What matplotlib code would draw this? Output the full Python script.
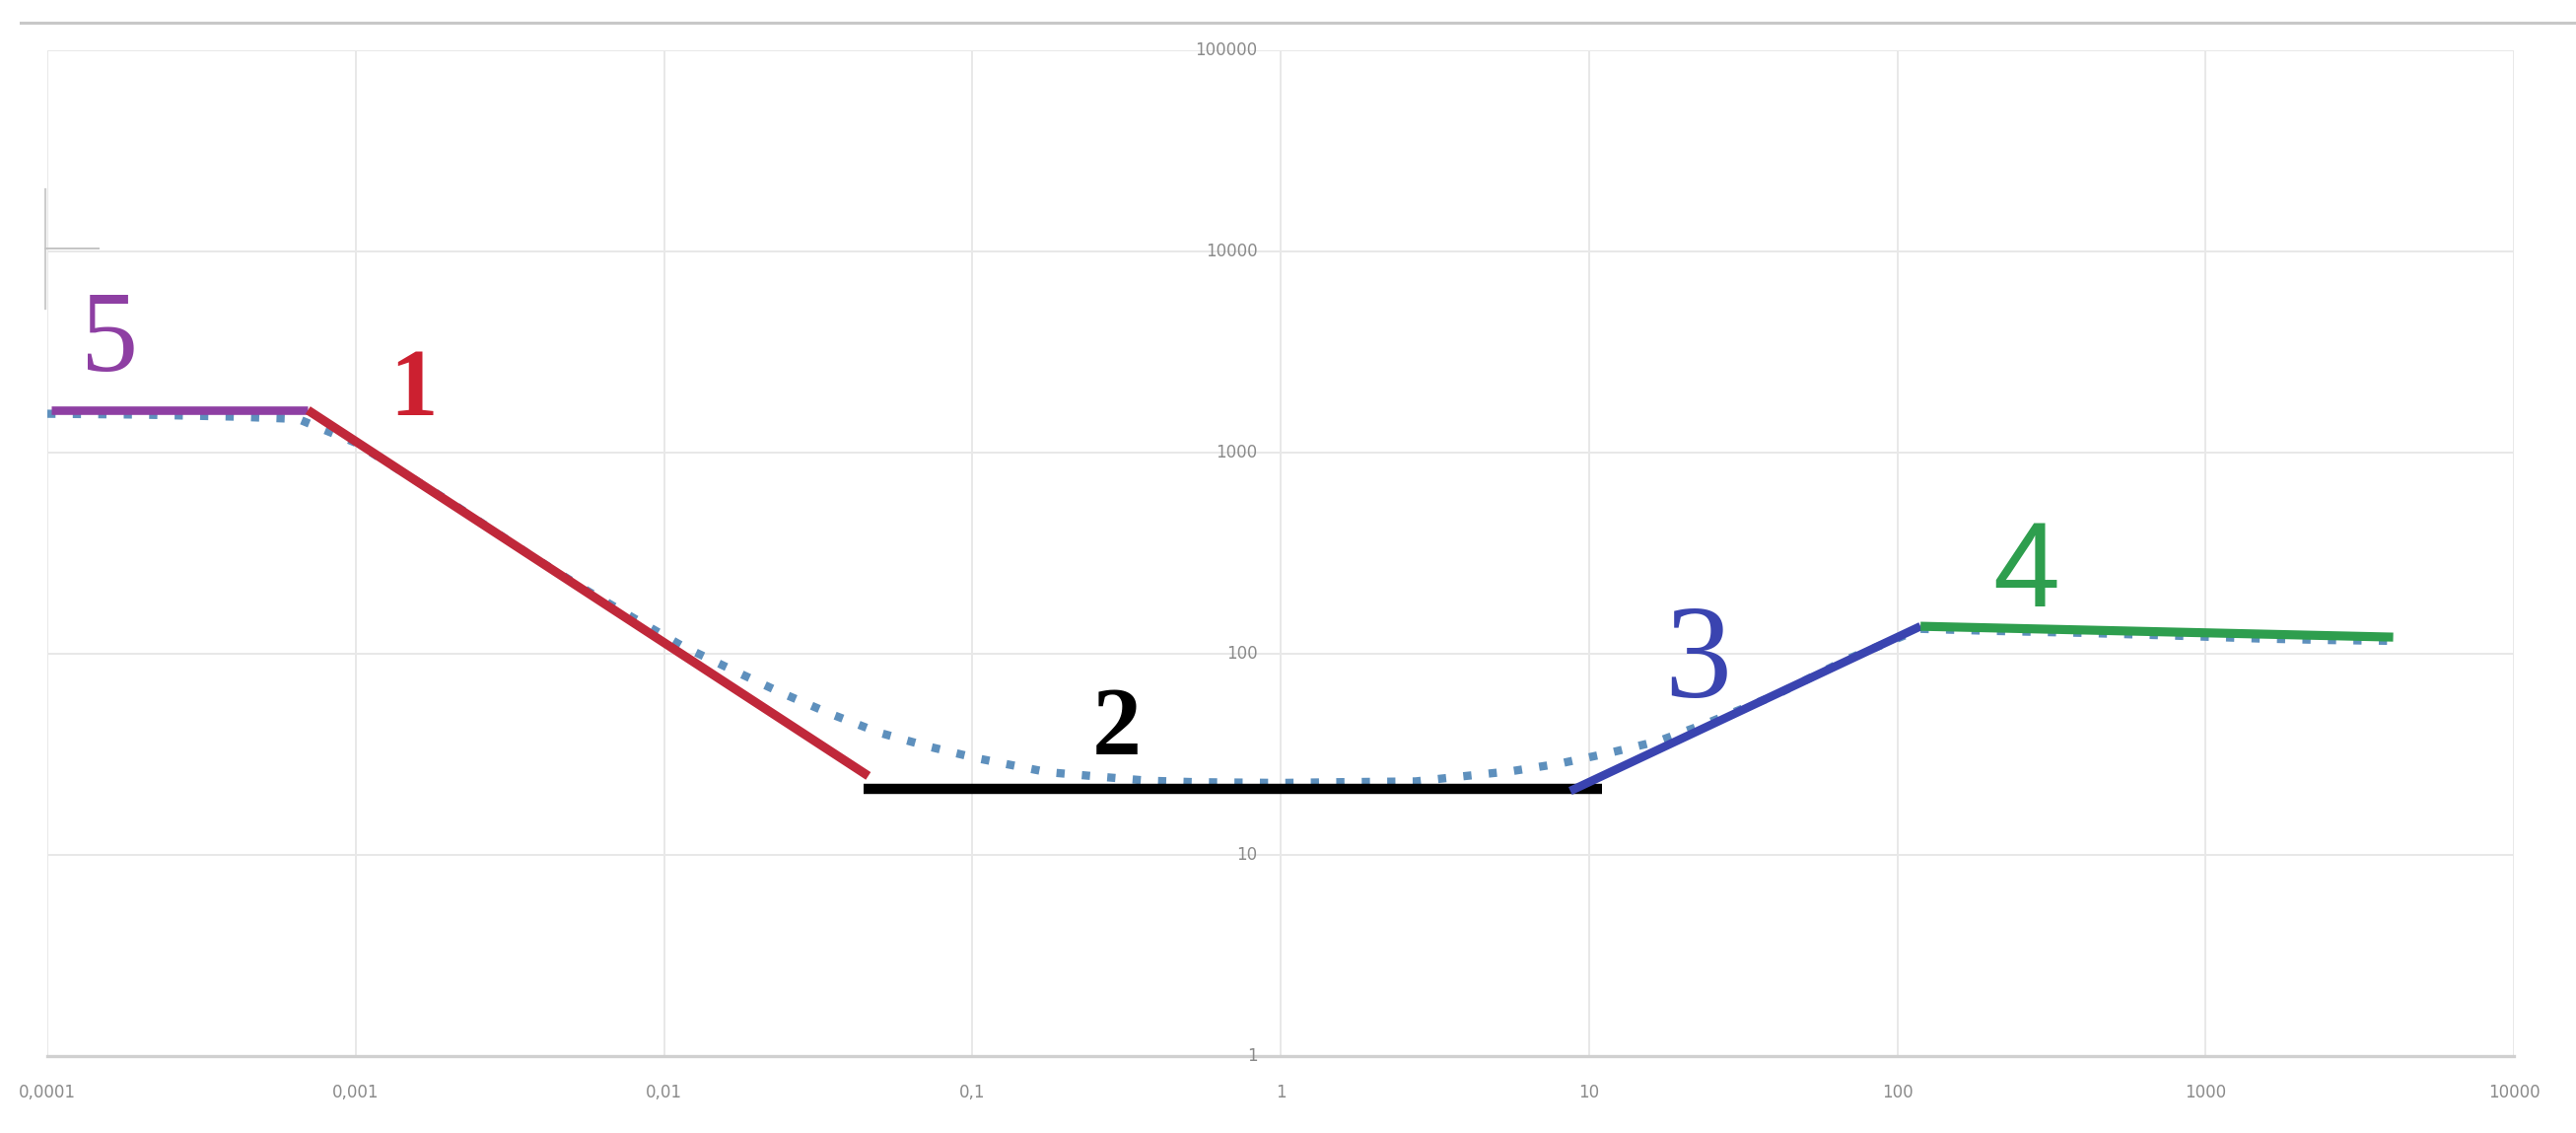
import matplotlib
matplotlib.use("Agg")
import matplotlib.pyplot as plt
from matplotlib.lines import Line2D

# ---------------- data ----------------
x_ticks = [1e-4, 1e-3, 1e-2, 1e-1, 1, 10, 100, 1000, 10000]
x_tick_labels = ["0,0001", "0,001", "0,01", "0,1", "1", "10", "100", "1000", "10000"]
y_ticks = [1, 10, 100, 1000, 10000, 100000]
y_tick_labels = ["1", "10", "100", "1000", "10000", "100000"]

seg5_x = [1.03e-4, 7.0e-4]
seg5_y = [1625, 1625]
seg1_x = [7.0e-4, 0.046]
seg1_y = [1625, 24.7]
seg2_x = [0.0444, 11.0]
seg2_y = [21.3, 21.3]
seg3_x = [8.7, 119]
seg3_y = [20.8, 137]
seg4_x = [119, 4060]
seg4_y = [137, 121]

fit_x = [1.0e-4, 2e-4, 4e-4, 6.5e-4, 1e-3, 2e-3, 3.85e-3, 5.57e-3, 8.0e-3, 0.0115,
         0.0167, 0.024, 0.035, 0.05, 0.072, 0.104, 0.175, 0.25, 0.37, 0.53, 1.0,
         1.56, 2.74, 3.9, 5.63, 8.08, 11.7, 16.9, 24.2, 40, 70, 119, 200, 400,
         800, 1500, 2500, 3900]
fit_y = [1560, 1545, 1510, 1470, 1120, 575, 296, 208, 150, 109,
         83, 64, 50, 40.5, 34.6, 30.2, 25.8, 24.6, 23.4, 23.0, 22.8,
         23.0, 23.2, 24.6, 26.1, 28.5, 32.2, 36.9, 45.2, 62, 95, 133, 130, 127,
         123, 119, 117, 116]

seg_labels = ["5", "1", "2", "3", "4"]
seg_label_x = [1.59e-4, 1.545e-3, 0.294, 22.5, 261]
seg_label_y = [3500, 2000, 41.5, 88.3, 247]

# ---------------- figure ----------------
W, H = 2613, 1149
fig = plt.figure(figsize=(W / 100, H / 100), dpi=100)
fig.patch.set_facecolor("white")
ax = fig.add_axes([48 / W, (H - 1071) / H, 2502 / W, 1020 / H])
ax.set_xscale("log")
ax.set_yscale("log")
ax.set_xlim(1e-4, 1e4)
ax.set_ylim(1, 1e5)

for s in ["left", "right", "top"]:
    ax.spines[s].set_visible(False)
ax.spines["bottom"].set_color("#d0d0d0")
ax.spines["bottom"].set_linewidth(2.4)
ax.spines["bottom"].set_zorder(1)

ax.minorticks_off()
ax.set_xticks(x_ticks)
ax.set_xticklabels(x_tick_labels)
ax.set_yticks(y_ticks)
ax.set_yticklabels([])
ax.tick_params(axis="both", length=0)
ax.tick_params(axis="x", pad=20, labelsize=12, labelcolor="#8a8a8a")
ax.grid(True, which="major", color="#e8e8e8", linewidth=1.4, zorder=0)
ax.set_axisbelow(True)

# y tick labels drawn next to x=1 gridline
for yv, lab in zip(y_ticks, y_tick_labels):
    ax.annotate(lab, xy=(1, yv), xytext=(-17, 0), textcoords="offset points",
                ha="right", va="center", fontsize=12, color="#8a8a8a", zorder=2)

# dotted fitted curve (underneath)
ax.plot(fit_x, fit_y, color="#5e90bd", linewidth=6.0, linestyle=(0, (1.0, 2.1)),
        zorder=3)

# segments
ax.plot(seg5_x, seg5_y, color="#8e3fa3", linewidth=6.2, solid_capstyle="butt", zorder=4)
ax.plot(seg1_x, seg1_y, color="#c0283a", linewidth=6.6, solid_capstyle="butt", zorder=4)
ax.plot(seg2_x, seg2_y, color="#000000", linewidth=7.5, solid_capstyle="butt", zorder=4)
ax.plot(seg3_x, seg3_y, color="#3a44b0", linewidth=6.2, solid_capstyle="butt", zorder=4)
ax.plot(seg4_x, seg4_y, color="#2e9e4e", linewidth=6.6, solid_capstyle="butt", zorder=4)

# segment labels
serif = ["Liberation Serif", "DejaVu Serif"]
label_styles = [
    dict(color="#8e3fa3", fontsize=84, fontweight="normal", family=serif),
    dict(color="#cc2030", fontsize=70, fontweight="bold", family=serif),
    dict(color="#000000", fontsize=72, fontweight="bold", family=serif),
    dict(color="#3a44b0", fontsize=98, fontweight="normal", family=serif),
    dict(color="#2e9e4e", fontsize=88, fontweight="normal",
         family=["Liberation Sans Narrow", "Liberation Sans", "DejaVu Sans"]),
]
for t, xv, yv, st in zip(seg_labels, seg_label_x, seg_label_y, label_styles):
    ax.text(xv, yv, t, ha="center", va="center", zorder=5, **st)

# decorative artifacts from the source image
fig.add_artist(Line2D([21 / W, 1.0], [1 - 23 / H, 1 - 23 / H], color="#c8c8c8",
                      linewidth=2.2, transform=fig.transFigure))
fig.add_artist(Line2D([46 / W, 46 / W], [1 - 192 / H, 1 - 313 / H], color="#cccccc",
                      linewidth=1.6, transform=fig.transFigure))
fig.add_artist(Line2D([46 / W, 100 / W], [1 - 252 / H, 1 - 252 / H], color="#c4c4c4",
                      linewidth=1.4, transform=fig.transFigure))

fig.savefig("out.png", dpi=100, facecolor="white")
